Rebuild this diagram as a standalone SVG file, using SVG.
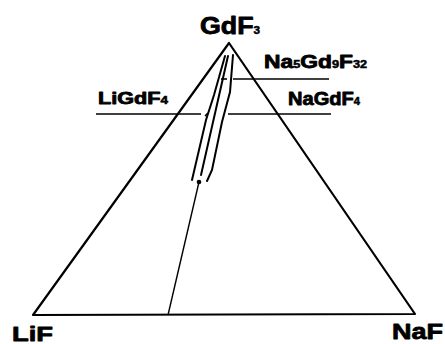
<svg xmlns="http://www.w3.org/2000/svg" width="445" height="344" viewBox="0 0 445 344">
<style>
text{font-family:"Liberation Sans",Arial,sans-serif;font-weight:bold;fill:#000;stroke:#000;stroke-width:0.8;stroke-linejoin:round}
.sub{font-size:10px;stroke-width:0.5}
.edge{fill:none;stroke:#000;stroke-width:2.2;stroke-linejoin:round}
.hl{fill:none;stroke:#000;stroke-width:1.6}
.env{fill:none;stroke:#000;stroke-width:2;stroke-linecap:round}
.thin{fill:none;stroke:#000;stroke-width:1.4}
</style>
<rect width="445" height="344" fill="#fff"/>
<g id="connectors">
<polygon class="edge" points="229,43 33,315 415,314"/>
<line class="thin" x1="168" y1="315" x2="199" y2="182"/>
<circle cx="199" cy="182" r="2.3" fill="#000"/>
<path class="env" d="M225,56 L214,95 L206,120 L192,180"/>
<path class="env" d="M228,56 L201,175"/>
<path class="env" d="M233,55 L230,92 L222,122 L212,170 L207,181"/>
<line class="hl" x1="96" y1="114" x2="201" y2="114"/>
<line class="hl" x1="228" y1="114" x2="331" y2="114"/>
<line class="hl" x1="233" y1="79" x2="329" y2="79"/>
<line class="hl" x1="221" y1="79" x2="227" y2="79"/>
<line class="hl" x1="205" y1="116" x2="208" y2="113"/>
</g>
<g id="GdF3"><text x="200" y="34" font-size="23" textLength="60" lengthAdjust="spacingAndGlyphs">GdF<tspan class="sub">3</tspan></text></g>
<g id="Na5Gd9F32"><text x="264" y="68" font-size="18" textLength="103" lengthAdjust="spacingAndGlyphs">Na<tspan class="sub">5</tspan>Gd<tspan class="sub">9</tspan>F<tspan class="sub">32</tspan></text></g>
<g id="NaGdF4"><text x="288" y="105" font-size="18" textLength="72" lengthAdjust="spacingAndGlyphs">NaGdF<tspan class="sub">4</tspan></text></g>
<g id="LiGdF4"><text x="98" y="104" font-size="16" textLength="70" lengthAdjust="spacingAndGlyphs">LiGdF<tspan class="sub">4</tspan></text></g>
<g id="LiF"><text x="12" y="341" font-size="21" textLength="41" lengthAdjust="spacingAndGlyphs">LiF</text></g>
<g id="NaF"><text x="392" y="339" font-size="22" textLength="51" lengthAdjust="spacingAndGlyphs">NaF</text></g>
</svg>
